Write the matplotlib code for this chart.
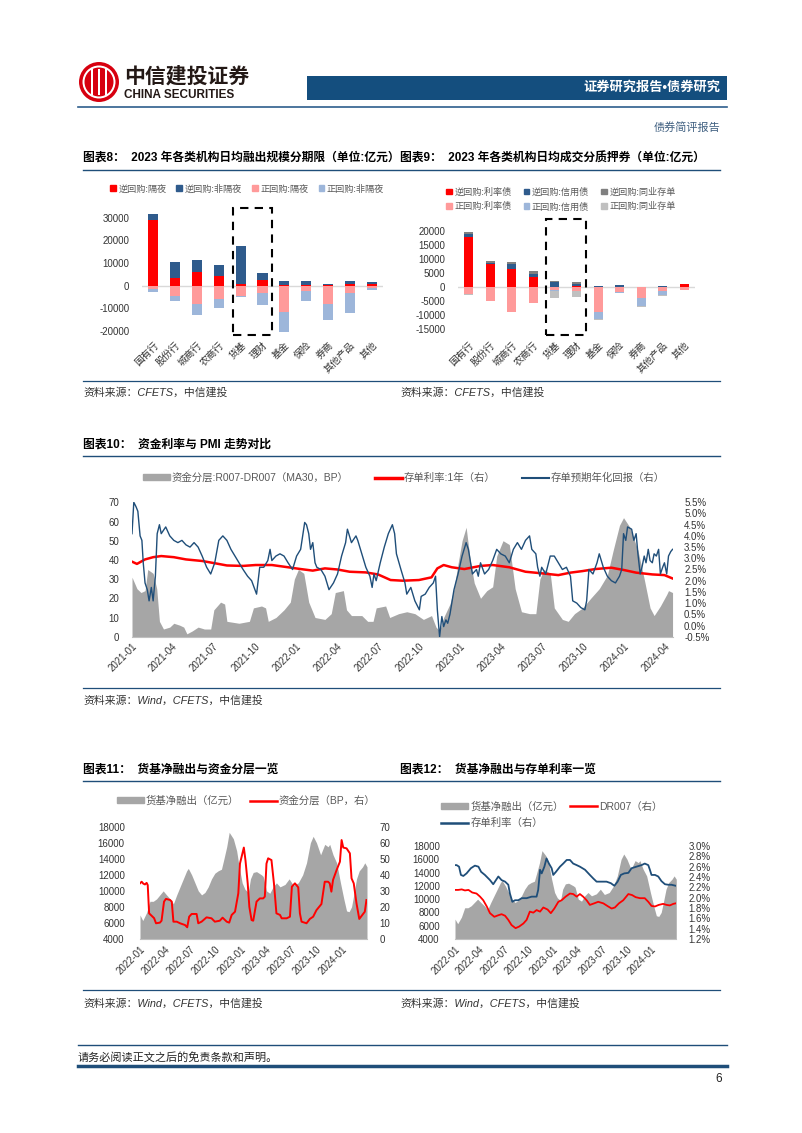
import numpy as np
import pandas as pd
import matplotlib
matplotlib.use('Agg')
import matplotlib.pyplot as plt
from matplotlib.patches import Rectangle, Ellipse, Patch
from matplotlib.lines import Line2D
from matplotlib.ticker import FuncFormatter

plt.rcParams['font.family'] = ['Liberation Sans', 'Noto Sans CJK SC', 'DejaVu Sans']
plt.rcParams['axes.unicode_minus'] = False

# ---------------- data ----------------
inst = ['国有行', '股份行', '城商行', '农商行', '货基', '理财', '基金', '保险', '券商', '其他产品', '其他']

# chart 8 (亿元)
rev_on = [29000, 3200, 6200, 4100, 700, 2500, 150, 500, 300, 700, 600]
rev_off = [2900, 7500, 5000, 4900, 16800, 2900, 1850, 1700, 400, 1200, 1100]
repo_on = [-1500, -4600, -8100, -6000, -4600, -3100, -11500, -2400, -8100, -3100, -900]
repo_off = [-1100, -2200, -4800, -4000, -500, -5400, -8800, -4200, -7300, -9100, -1100]

# chart 9 (亿元)
rev_rate = [17800, 8100, 6300, 3700, 100, 200, 0, 0, 0, 0, 1000]
rev_credit = [1000, 600, 1800, 1000, 1800, 1000, 350, 600, 100, 500, 0]
rev_ncd = [800, 600, 900, 1000, 100, 700, 0, 0, 0, 0, 0]
repo_rate = [-2500, -5000, -9000, -5600, -1100, -1400, -9000, -1650, -4050, -1300, -1200]
repo_credit = [-100, 0, 0, 0, -300, -200, -2400, -600, -2600, -1550, 0]
repo_ncd = [-100, 0, 0, 0, -2400, -1900, -400, 0, -350, -450, 0]

# chart 10, days since 2021-01-01
gap10_days = [0, 11, 20, 29, 35, 47, 55, 61, 70, 84, 93, 106, 115, 122, 134, 147, 161, 175, 182, 197,
              206, 211, 238, 261, 270, 288, 297, 303, 320, 338, 352, 361, 370, 382, 393, 407, 429, 443,
              452, 470, 477, 488, 511, 524, 536, 543, 564, 573, 593, 611, 629, 648, 666, 676, 684, 693,
              707, 716, 725, 734, 743, 752, 761, 775, 789, 802, 811, 825, 839, 852, 866, 884, 898, 907,
              916, 930, 939, 957, 970, 984, 1002, 1020, 1039, 1057, 1070, 1084, 1093, 1107, 1125, 1139,
              1152, 1161, 1175, 1189, 1193, 1202]
gap10_vals = [31, 25, 23, 24, 35, 33, 25, 8, 4, 5, 7, 6, 5, 1.5, 3, 5, 4, 4, 14, 18,
              17, 8, 7, 8, 15, 16, 15, 8, 10, 14, 18, 30, 35, 33, 18, 10, 9, 12,
              23, 24, 14, 11, 11, 8, 8, 15, 16, 10, 12, 13, 12, 9, 11, 5, 3, 10,
              17, 25, 38, 50, 57, 40, 28, 20, 24, 26, 42, 50, 48, 25, 13, 12, 12, 30,
              35, 33, 15, 9, 8, 12, 15, 20, 25, 32, 45, 58, 62, 57, 45, 30,
              15, 11, 16, 22, 24, 23]

cd1y_days = [0, 11, 29, 47, 65, 93, 120, 156, 184, 211, 247, 275, 311, 347, 375, 402, 429, 457, 484,
             520, 547, 575, 602, 638, 666, 679, 693, 711, 739, 775, 802, 839, 875, 911, 948, 975, 1002,
             1030, 1066, 1093, 1121, 1157, 1184, 1202]
cd1y_vals = [2.85, 2.75, 2.95, 3.05, 3.1, 3.05, 2.95, 2.88, 2.78, 2.68, 2.66, 2.7, 2.7, 2.6, 2.52, 2.45,
             2.55, 2.5, 2.4, 2.37, 2.28, 2.03, 2.0, 2.03, 2.15, 2.55, 2.7, 2.6, 2.52, 2.66, 2.7, 2.6,
             2.4, 2.33, 2.25, 2.36, 2.43, 2.52, 2.58, 2.48, 2.36, 2.28, 2.25, 2.1]

ret_days = [0, 4, 9, 13, 18, 22, 25, 29, 34, 38, 43, 47, 52, 56, 61, 65, 75, 84, 93, 102, 111, 120,
            129, 138, 147, 156, 166, 175, 184, 193, 202, 211, 220, 229, 238, 247, 257, 266, 277, 284,
            293, 302, 307, 311, 320, 329, 338, 347, 357, 366, 375, 384, 388, 393, 397, 402, 407, 411,
            420, 429, 438, 448, 457, 466, 475, 479, 488, 498, 502, 511, 520, 529, 534, 538, 543, 552,
            561, 570, 579, 584, 588, 598, 607, 611, 620, 629, 639, 643, 652, 661, 670, 675, 679, 684,
            689, 693, 698, 702, 707, 711, 716, 725, 734, 743, 748, 752, 757, 766, 770, 775, 784, 793,
            802, 811, 820, 830, 839, 848, 857, 866, 875, 884, 889, 898, 902, 907, 911, 920, 930, 939,
            948, 957, 966, 975, 980, 989, 998, 1007, 1011, 1016, 1025, 1034, 1039, 1048, 1057, 1066,
            1075, 1084, 1089, 1093, 1098, 1102, 1111, 1116, 1121, 1125, 1130, 1134, 1139, 1143, 1148,
            1152, 1157, 1161, 1166, 1171, 1175, 1180, 1184, 1189, 1193, 1198, 1202]
ret_vals = [4.1, 5.5, 5.3, 5.1, 4.0, 3.8, 2.8, 1.9, 1.6, 1.1, 1.7, 1.1, 2.2, 4.1, 4.5, 4.1, 4.4, 4.0,
            3.8, 3.7, 3.8, 3.6, 3.5, 3.7, 3.5, 3.1, 2.6, 2.3, 2.8, 3.8, 4.0, 3.8, 3.4, 3.1, 2.8, 2.5,
            2.2, 2.0, 1.4, 2.6, 2.6, 2.9, 3.4, 2.9, 3.1, 3.2, 3.1, 2.8, 2.5, 3.1, 3.4, 4.6, 4.5, 4.1,
            3.4, 3.7, 2.8, 2.6, 2.5, 2.2, 1.6, 1.9, 2.3, 3.1, 3.7, 4.3, 3.7, 4.0, 3.8, 3.2, 2.6, 2.2,
            1.7, 2.3, 2.0, 2.8, 3.5, 4.1, 4.5, 4.1, 3.2, 2.5, 1.9, 1.4, 1.7, 1.1, 0.7, 1.3, 1.4, 1.7,
            1.9, 2.2, 0.7, -0.5, 0.4, -0.05, 0.25, 0.1, 0.5, 1.0, 1.6, 2.3, 3.1, 3.7, 3.4, 2.9, 2.3,
            2.5, 2.2, 2.8, 2.3, 2.5, 2.9, 3.4, 3.2, 3.1, 2.8, 3.4, 3.7, 3.4, 3.8, 4.0, 3.4, 3.2, 2.6,
            2.2, 2.6, 2.3, 3.1, 3.1, 2.8, 2.5, 2.6, 2.2, 1.1, 1.0, 0.8, 0.7, 1.1, 2.5, 2.3, 2.8, 3.2,
            2.6, 2.2, 2.0, 1.9, 2.2, 2.5, 4.1, 3.8, 4.4, 4.3, 3.8, 4.1, 3.2, 2.3, 2.6, 3.1, 2.8, 3.4,
            2.9, 2.8, 3.2, 3.1, 3.4, 2.3, 2.6, 2.8, 2.3, 3.1, 3.3, 3.4]

# charts 11 / 12, days since 2022-01-01
mmf_days = [0, 10, 24, 36, 48, 60, 72, 84, 96, 109, 121, 133, 145, 157, 169, 175, 187, 199, 211, 223,
            235, 247, 259, 271, 283, 295, 304, 314, 323, 338, 350, 359, 370, 380, 392, 400, 410, 422,
            440, 446, 458, 470, 482, 494, 507, 525, 540, 555, 573, 589, 603, 617, 627, 639, 654, 669,
            681, 687, 699, 712, 726, 738, 748, 757, 766, 774, 784, 794, 806, 814, 822]
mmf_vals = [7000, 6300, 7300, 8700, 8700, 9000, 9500, 10000, 9500, 9000, 8400, 9500, 10500, 11500,
            12500, 12800, 12000, 11000, 10000, 9500, 9800, 10500, 11500, 12200, 12500, 12700, 14000,
            15500, 17300, 16500, 15000, 13000, 11000, 10200, 9800, 11500, 12300, 12400, 12000, 11800,
            10000, 9700, 10500, 11000, 10500, 10800, 11500, 10700, 11000, 12000, 13500, 16000, 16800,
            16000, 14500, 15800, 15500, 15800, 14500, 13500, 11000, 9000, 7500, 7400, 8000, 9500,
            11500, 12500, 13000, 13500, 13000]

gapbp_days = [0, 6, 12, 18, 24, 28, 33, 42, 51, 58, 72, 78, 87, 94, 109, 115, 121, 133, 145, 163, 171,
              178, 187, 205, 211, 223, 241, 259, 271, 289, 299, 314, 323, 332, 344, 356, 362, 368, 376,
              382, 390, 396, 404, 410, 422, 434, 446, 452, 458, 464, 476, 485, 494, 507, 513, 531, 543,
              550, 561, 573, 579, 585, 603, 615, 627, 639, 657, 669, 681, 687, 693, 699, 712, 724, 730,
              736, 748, 760, 766, 774, 784, 794, 802, 814, 820]
gapbp_vals = [34.7, 35.7, 34.5, 34, 35, 33.6, 16, 14.5, 13, 9.8, 10.2, 11.4, 23.3, 25, 24.3, 23.3, 10.8,
              10.8, 9.8, 8.7, 7.3, 13.9, 15.6, 15.6, 9.8, 10.8, 13.5, 12.9, 10.8, 11.4, 13.3, 10.8, 10.2,
              15, 17, 28.5, 47, 51.3, 57, 49, 34.7, 20, 11.8, 11.4, 23.3, 25.3, 25.3, 26.4, 47, 50.3,
              49.2, 34.7, 16, 15, 12.9, 12.9, 13.9, 32.6, 34.7, 32.2, 16, 10.8, 9.8, 12.5, 13.9, 18, 21.8,
              35.7, 35.7, 34.7, 29.5, 36.8, 43, 48.2, 61.7, 57, 56.5, 53.4, 37.8, 34.7, 22.2, 12.5, 14.3,
              17, 24.3]

ncd_days = [0, 6, 15, 22, 31, 43, 59, 74, 87, 97, 111, 130, 142, 161, 173, 186, 198, 204, 213, 223, 235,
            248, 266, 285, 303, 309, 316, 322, 332, 340, 349, 359, 365, 375, 390, 402, 415, 427, 439, 452,
            464, 483, 501, 514, 526, 545, 563, 579, 592, 604, 616, 629, 644, 656, 674, 693, 705, 718, 724,
            730, 743, 755, 767, 780, 792, 804, 820]
ncd_vals = [2.63, 2.63, 2.6, 2.44, 2.42, 2.47, 2.57, 2.62, 2.6, 2.5, 2.44, 2.34, 2.26, 2.41, 2.34, 2.31,
            2.25, 2.08, 1.92, 1.95, 1.95, 1.99, 1.99, 2.02, 2.02, 2.15, 2.54, 2.47, 2.6, 2.76, 2.66, 2.57,
            2.44, 2.5, 2.6, 2.66, 2.73, 2.73, 2.66, 2.63, 2.6, 2.54, 2.44, 2.37, 2.31, 2.31, 2.31, 2.28,
            2.23, 2.31, 2.44, 2.47, 2.48, 2.57, 2.6, 2.63, 2.66, 2.63, 2.54, 2.44, 2.44, 2.41, 2.32, 2.26,
            2.25, 2.25, 2.23]

dr7_days = [0, 12, 25, 37, 50, 64, 80, 93, 105, 118, 130, 146, 161, 173, 186, 198, 210, 225, 238, 254,
            266, 278, 291, 303, 316, 328, 344, 356, 369, 384, 396, 411, 427, 439, 452, 464, 476, 489,
            501, 517, 532, 551, 569, 582, 594, 609, 625, 644, 658, 671, 687, 705, 718, 730, 743, 757,
            773, 786, 798, 811, 820]
dr7_vals = [2.15, 2.15, 2.16, 2.14, 2.15, 2.1, 2.08, 2.02, 1.95, 1.83, 1.7, 1.63, 1.66, 1.68, 1.65, 1.57,
            1.47, 1.41, 1.44, 1.5, 1.57, 1.73, 1.71, 1.76, 1.73, 1.81, 1.77, 1.7, 1.79, 1.92, 1.95, 2.02,
            2.08, 2.07, 2.02, 2.07, 2.02, 1.95, 1.86, 1.89, 1.92, 1.89, 1.83, 1.79, 1.81, 1.89, 1.95,
            2.07, 2.05, 2.01, 1.99, 1.99, 1.92, 1.84, 1.83, 1.86, 1.88, 1.86, 1.85, 1.88, 1.89]

# ---------------- figure ----------------
W, H = 802, 1133
fig = plt.figure(figsize=(W / 100, H / 100), dpi=100)
NAVY = '#1F4E79'
TXT = '#333333'


def ax_at(l, t, r, b):
    return fig.add_axes([l / W, 1 - b / H, (r - l) / W, (b - t) / H])


def txt(x, y, s, **kw):
    kw.setdefault('va', 'center')
    fig.text(x / W, 1 - y / H, s, **kw)


def hline(x0, x1, y, lw=1.0, color=NAVY):
    fig.add_artist(Line2D([x0 / W, x1 / W], [1 - y / H] * 2, lw=lw, color=color))


def clean(ax, bottom=False):
    for s in ax.spines.values():
        s.set_visible(False)
    if bottom:
        ax.spines['bottom'].set_visible(True)
        ax.spines['bottom'].set_color('#BFBFBF')
    ax.tick_params(length=0, labelsize=7, colors=TXT)


# header
def disc(cx, cy, r, color):
    fig.add_artist(Ellipse((cx / W, 1 - cy / H), 2 * r / W, 2 * r / H,
                           transform=fig.transFigure, color=color, lw=0))


disc(99, 82, 20, '#D7000F')
disc(99, 82, 16.5, 'white')
disc(99, 82, 14.5, '#D7000F')
for bx in [92, 99, 106]:
    fig.add_artist(Rectangle(((bx - 1.2) / W, 1 - 95 / H), 2.4 / W, 26 / H,
                             transform=fig.transFigure, color='white', lw=0))
txt(124, 76, '中信建投证券', fontsize=15, fontweight='bold', color='#231815')
txt(124, 95, 'CHINA SECURITIES', fontsize=8.5, fontweight='bold', color='#231815')
fig.add_artist(Rectangle((307 / W, 1 - 100 / H), 420 / W, 24 / H,
                         transform=fig.transFigure, color='#144E7E', lw=0))
txt(720, 88, '证券研究报告•债券研究', fontsize=9.5, fontweight='bold', color='white', ha='right')
hline(78, 727, 107, lw=1.2, color='#2E5E8C')
txt(720, 127, '债券简评报告', fontsize=8, color='#3F5F80', ha='right')

# section titles / rules / sources
TS = 8.5
txt(83, 158, '图表8：  2023 年各类机构日均融出规模分期限（单位:亿元）', fontsize=TS, fontweight='bold', color='black')
txt(400, 158, '图表9：  2023 年各类机构日均成交分质押券（单位:亿元）', fontsize=TS, fontweight='bold', color='black')
hline(83, 720, 170)
hline(83, 720, 381, lw=0.9)
txt(83, 392, '资料来源：CFETS，中信建投', fontsize=7.8, color=TXT, style='italic')
txt(400, 392, '资料来源：CFETS，中信建投', fontsize=7.8, color=TXT, style='italic')

txt(83, 445, '图表10：  资金利率与 PMI 走势对比', fontsize=TS, fontweight='bold', color='black')
hline(83, 720, 456)
hline(83, 720, 688, lw=0.9)
txt(83, 700, '资料来源：Wind，CFETS，中信建投', fontsize=7.8, color=TXT, style='italic')

txt(83, 770, '图表11：  货基净融出与资金分层一览', fontsize=TS, fontweight='bold', color='black')
txt(400, 770, '图表12：  货基净融出与存单利率一览', fontsize=TS, fontweight='bold', color='black')
hline(83, 720, 781)
hline(83, 720, 990, lw=0.9)
txt(83, 1003, '资料来源：Wind，CFETS，中信建投', fontsize=7.8, color=TXT, style='italic')
txt(400, 1003, '资料来源：Wind，CFETS，中信建投', fontsize=7.8, color=TXT, style='italic')

# footer
hline(78, 727, 1045, lw=1.0)
txt(78, 1057, '请务必阅读正文之后的免责条款和声明。', fontsize=8, color='#222222')
hline(78, 727, 1066, lw=2.5)
txt(722, 1079, '6', fontsize=8.5, color='#222222', ha='right')

C_RED, C_DBLUE, C_PINK, C_LBLUE = '#FF0000', '#2F5B8C', '#FF9A9A', '#9DB6DA'
C_GRAY, C_LGRAY = '#808080', '#C0C0C0'
x = np.arange(len(inst))


def cat_labels(ax):
    ax.set_xticks(x)
    ax.set_xticklabels(inst, rotation=45, ha='right', va='top', rotation_mode='anchor',
                       fontsize=7, color=TXT)
    ax.tick_params(axis='x', pad=3)
    ax.tick_params(axis='y', pad=9)
    ax.set_xlim(-0.5, len(inst) - 0.5)
    ax.axhline(0, color='#D9D9D9', lw=1, zorder=0)
    ax.yaxis.set_major_formatter(FuncFormatter(lambda v, p: f'{v:.0f}'))


# chart 8
ax8 = ax_at(142, 206.6, 383, 335.4)
bw = 0.46
ax8.bar(x, rev_on, bw, color=C_RED)
ax8.bar(x, rev_off, bw, bottom=rev_on, color=C_DBLUE)
ax8.bar(x, repo_on, bw, color=C_PINK)
ax8.bar(x, repo_off, bw, bottom=repo_on, color=C_LBLUE)
ax8.set_ylim(-22000, 35000)
ax8.set_yticks(range(-20000, 30001, 10000))
clean(ax8)
cat_labels(ax8)
ax8.add_patch(Rectangle((3.66, -21800), 1.79, 56300, fill=False, ec='black', lw=1.5,
                        ls=(0, (4, 3)), clip_on=False))
fig.legend([Patch(color=c) for c in [C_RED, C_DBLUE, C_PINK, C_LBLUE]],
           ['逆回购:隔夜', '逆回购:非隔夜', '正回购:隔夜', '正回购:非隔夜'],
           loc='center', bbox_to_anchor=(247 / W, 1 - 189 / H), ncol=4, frameon=False,
           fontsize=6.6, handlelength=0.6, handleheight=0.6, handletextpad=0.3,
           columnspacing=1.1, labelcolor='#595959')

# chart 9
ax9 = ax_at(458, 218.4, 695, 336)
bw = 0.42
pos = np.zeros(len(inst))
for vals, c in [(rev_rate, C_RED), (rev_credit, C_DBLUE), (rev_ncd, C_GRAY)]:
    ax9.bar(x, vals, bw, bottom=pos, color=c)
    pos = pos + np.array(vals)
neg = np.zeros(len(inst))
for vals, c in [(repo_rate, C_PINK), (repo_credit, C_LBLUE), (repo_ncd, C_LGRAY)]:
    ax9.bar(x, vals, bw, bottom=neg, color=c)
    neg = neg + np.array(vals)
ax9.set_ylim(-17500, 24500)
ax9.set_yticks(range(-15000, 20001, 5000))
clean(ax9)
cat_labels(ax9)
ax9.add_patch(Rectangle((3.58, -17100), 1.86, 41400, fill=False, ec='black', lw=1.5,
                        ls=(0, (4, 3)), clip_on=False))
fig.legend([Patch(color=c) for c in [C_RED, C_PINK, C_DBLUE, C_LBLUE, C_GRAY, C_LGRAY]],
           ['逆回购:利率债', '正回购:利率债', '逆回购:信用债', '正回购:信用债', '逆回购:同业存单', '正回购:同业存单'],
           loc='center', bbox_to_anchor=(561 / W, 1 - 199.5 / H), ncol=3, frameon=False,
           fontsize=6.6, handlelength=0.6, handleheight=0.6, handletextpad=0.3,
           columnspacing=1.3, labelspacing=0.6, labelcolor='#595959')


def date_axis(ax, start, end, last):
    ticks = pd.date_range(start, end, freq='QS')
    ax.set_xticks(ticks)
    ax.set_xticklabels([d.strftime('%Y-%m') for d in ticks], rotation=45, ha='right', va='top',
                       rotation_mode='anchor', fontsize=7, color=TXT)
    ax.set_xlim(pd.Timestamp(start), pd.Timestamp(last))


def days_to_dates(start, days):
    return pd.Timestamp(start) + pd.to_timedelta(days, unit='D')


# chart 10
ax10 = ax_at(132, 502.3, 673, 636.7)
ax10.fill_between(days_to_dates('2021-01-01', gap10_days), 0, gap10_vals, color='#A6A6A6', lw=0)
ax10.set_ylim(0, 70)
ax10.set_yticks(range(0, 71, 10))
clean(ax10, bottom=True)
ax10.tick_params(axis='y', pad=9)
date_axis(ax10, '2021-01-01', '2024-04-01', '2024-04-18')
ax10r = ax10.twinx()
ax10r.plot(days_to_dates('2021-01-01', cd1y_days), cd1y_vals, color=C_RED, lw=1.8)
ax10r.plot(days_to_dates('2021-01-01', ret_days), ret_vals, color=NAVY, lw=1.0)
ax10r.set_ylim(-0.5, 5.5)
ax10r.set_yticks(np.arange(-0.5, 5.51, 0.5))
ax10r.yaxis.set_major_formatter(FuncFormatter(lambda v, p: f'{v:.1f}%'))
clean(ax10r)
ax10r.tick_params(axis='y', pad=8)
fig.legend([Patch(color='#A6A6A6'), Line2D([], [], color=C_RED, lw=2.5), Line2D([], [], color=NAVY, lw=1.5)],
           ['资金分层:R007-DR007（MA30，BP）', '存单利率:1年（右）', '存单预期年化回报（右）'],
           loc='center', bbox_to_anchor=(404 / W, 1 - 478 / H), ncol=3, frameon=False,
           fontsize=7.5, handlelength=2.6, handleheight=0.5, handletextpad=0.2,
           columnspacing=2.5, labelcolor='#595959')

# chart 11
ax11 = ax_at(140, 826.7, 367, 939)
t_mmf = days_to_dates('2022-01-01', mmf_days)
ax11.fill_between(t_mmf, 0, mmf_vals, color='#A6A6A6', lw=0)
ax11.set_ylim(4000, 18000)
ax11.set_yticks(range(4000, 18001, 2000))
clean(ax11, bottom=True)
ax11.tick_params(axis='y', pad=11)
date_axis(ax11, '2022-01-01', '2024-01-01', '2024-04-02')
ax11r = ax11.twinx()
ax11r.plot(days_to_dates('2022-01-01', gapbp_days), gapbp_vals, color=C_RED, lw=1.4)
ax11r.set_ylim(0, 70)
ax11r.set_yticks(range(0, 71, 10))
clean(ax11r)
ax11r.tick_params(axis='y', pad=9)
fig.legend([Patch(color='#A6A6A6'), Line2D([], [], color=C_RED, lw=1.8)],
           ['货基净融出（亿元）', '资金分层（BP，右）'],
           loc='center', bbox_to_anchor=(246 / W, 1 - 801 / H), ncol=2, frameon=False,
           fontsize=7.5, handlelength=2.6, handleheight=0.5, handletextpad=0.2,
           columnspacing=1.0, labelcolor='#595959')

# chart 12
ax12 = ax_at(455, 846, 676, 939)
ax12.fill_between(t_mmf, 0, mmf_vals, color='#A6A6A6', lw=0)
ax12.set_ylim(4000, 18000)
ax12.set_yticks(range(4000, 18001, 2000))
clean(ax12, bottom=True)
ax12.tick_params(axis='y', pad=11)
date_axis(ax12, '2022-01-01', '2024-01-01', '2024-04-01')
ax12r = ax12.twinx()
ax12r.plot(days_to_dates('2022-01-01', dr7_days), dr7_vals, color=C_RED, lw=1.3)
ax12r.plot(days_to_dates('2022-01-01', ncd_days), ncd_vals, color=NAVY, lw=1.3)
ax12r.set_ylim(1.2, 3.0)
ax12r.set_yticks(np.arange(1.2, 3.01, 0.2))
ax12r.yaxis.set_major_formatter(FuncFormatter(lambda v, p: f'{v:.1f}%'))
clean(ax12r)
ax12r.tick_params(axis='y', pad=9)
fig.legend([Patch(color='#A6A6A6'), Line2D([], [], color=NAVY, lw=1.8), Line2D([], [], color=C_RED, lw=1.8)],
           ['货基净融出（亿元）', '存单利率（右）', 'DR007（右）'],
           loc='upper left', bbox_to_anchor=(432 / W, 1 - 792 / H), ncol=2, frameon=False,
           fontsize=7.5, handlelength=2.6, handleheight=0.5, handletextpad=0.2,
           columnspacing=0.6, labelspacing=0.6, labelcolor='#595959')

fig.savefig('out.png', dpi=100)
